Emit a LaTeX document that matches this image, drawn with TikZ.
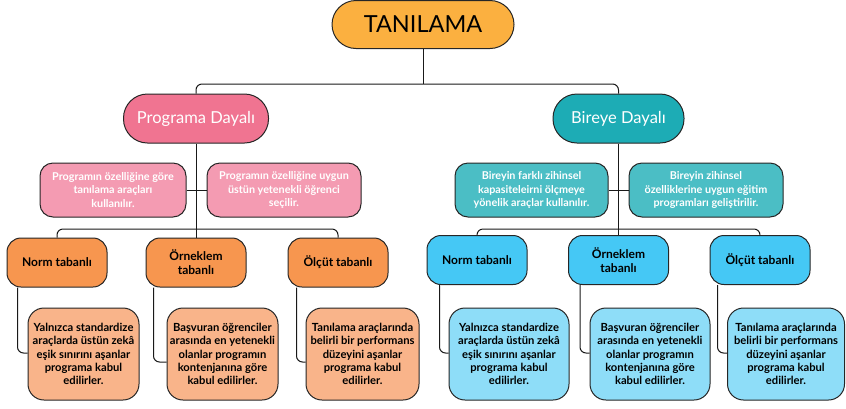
\documentclass[tikz,border=0pt]{standalone}
\usepackage{fontspec}
\setmainfont{Lato}
\usetikzlibrary{positioning}
\definecolor{cTan}{HTML}{FBB040}
\definecolor{cProg}{HTML}{F07491}
\definecolor{cPink}{HTML}{F49BB2}
\definecolor{cOrg}{HTML}{F7964F}
\definecolor{cOrgL}{HTML}{F9B48A}
\definecolor{cBir}{HTML}{1DACB5}
\definecolor{cTeal}{HTML}{4BBEC5}
\definecolor{cBlue}{HTML}{45C8F5}
\definecolor{cBlueL}{HTML}{8EDDF8}
\tikzset{
  boxbase/.style={draw=black!85, line width=1pt, inner sep=0pt, align=center},
  pill/.style={boxbase, minimum height=49pt, rounded corners=24pt},
  infobox/.style={boxbase, minimum height=54pt, rounded corners=13pt, text=white,
     font=\bfseries\fontsize{10.8}{13.4}\selectfont},
  midbox/.style={boxbase, minimum width=100pt, minimum height=49pt, rounded corners=14pt,
     font=\bfseries\fontsize{12}{14}\selectfont},
  lowbox/.style={boxbase, minimum height=92pt, rounded corners=16pt,
     font=\bfseries\fontsize{11.2}{13.4}\selectfont},
  conn/.style={draw=black!90, line width=1pt, rounded corners=6pt},
}
\begin{document}
\begin{tikzpicture}[x=1pt,y=-1pt]
\useasboundingbox (0,0) rectangle (846,408);
% top level
\node[pill, fill=cTan, minimum width=182pt, minimum height=48pt,
      font=\fontsize{23.5}{28}\selectfont] (tan) at (423,24.5) {TANILAMA};
\node[pill, fill=cProg, minimum width=145pt, text=white,
      font=\fontsize{16.5}{18}\selectfont] (prog) at (196,118.5) {Programa Dayalı};
\node[pill, fill=cBir, minimum width=131pt, text=white,
      font=\fontsize{16.5}{18}\selectfont] (bir) at (618.5,118.5) {Bireye Dayalı};
% second level
\node[infobox, fill=cPink, minimum width=146pt] (p1) at (113,190)
  {Programın özelliğine göre\\tanılama araçları\\kullanılır.};
\node[infobox, fill=cPink, minimum width=154pt] (p2) at (284,190)
  {Programın özelliğine uygun\\üstün yetenekli öğrenci\\seçilir.};
\node[infobox, fill=cTeal, minimum width=153pt] (t1) at (531.5,190)
  {Bireyin farklı zihinsel\\kapasiteleirni ölçmeye\\yönelik araçlar kullanılır.};
\node[infobox, fill=cTeal, minimum width=154pt] (t2) at (706,190)
  {Bireyin zihinsel\\özelliklerine uygun eğitim\\programları geliştirilir.};
% third level
\node[midbox, fill=cOrg] (o1) at (57,262.5) {Norm tabanlı};
\node[midbox, fill=cOrg] (o2) at (196,262.5) {Örneklem\\tabanlı};
\node[midbox, fill=cOrg] (o3) at (338,262.5) {Ölçüt tabanlı};
\node[midbox, fill=cBlue] (u1) at (477,260) {Norm tabanlı};
\node[midbox, fill=cBlue] (u2) at (618.5,260) {Örneklem\\tabanlı};
\node[midbox, fill=cBlue] (u3) at (760,260) {Ölçüt tabanlı};
% fourth level
\node[lowbox, fill=cOrgL, minimum width=111pt] (l1) at (83.5,354)
  {Yalnızca standardize\\araçlarda üstün zekâ\\eşik sınırını aşanlar\\programa kabul\\edilirler.};
\node[lowbox, fill=cOrgL, minimum width=111pt] (l2) at (222.5,354)
  {Başvuran öğrenciler\\arasında en yetenekli\\olanlar programın\\kontenjanına göre\\kabul edilirler.};
\node[lowbox, fill=cOrgL, minimum width=113pt] (l3) at (362.5,354)
  {Tanılama araçlarında\\belirli bir performans\\düzeyini aşanlar\\programa kabul\\edilirler.};
\node[lowbox, fill=cBlueL, minimum width=120pt] (r1) at (509,354)
  {Yalnızca standardize\\araçlarda üstün zekâ\\eşik sınırını aşanlar\\programa kabul\\edilirler.};
\node[lowbox, fill=cBlueL, minimum width=120pt] (r2) at (650,354)
  {Başvuran öğrenciler\\arasında en yetenekli\\olanlar programın\\kontenjanına göre\\kabul edilirler.};
\node[lowbox, fill=cBlueL, minimum width=117pt] (r3) at (786,354)
  {Tanılama araçlarında\\belirli bir performans\\düzeyini aşanlar\\programa kabul\\edilirler.};
% junction coordinates
\coordinate (h0) at (423,84);
\coordinate (hl) at (196,229);
\coordinate (hr) at (618.5,229);
% connectors
\draw[conn] (tan.south) -- (h0);
\draw[conn] (prog.north) |- (h0) -| (bir.north);
\draw[conn] (prog.south) -- (o2.north);
\draw[conn] (p1.east) -- (p2.west);
\draw[conn] (o1.north) |- (hl) -| (o3.north);
\draw[conn] (bir.south) -- (u2.north);
\draw[conn] (t1.east) -- (t2.west);
\draw[conn] (u1.north) |- (hr) -| (u3.north);
\draw[conn] ([xshift=11pt]o1.south west) |- ([yshift=1pt]l1.west);
\draw[conn] ([xshift=8pt]o2.south west) |- ([yshift=-8pt]l2.west);
\draw[conn] ([xshift=9pt]o3.south west) |- ([yshift=-8pt]l3.west);
\draw[conn] ([xshift=13pt]u1.south west) |- ([yshift=1pt]r1.west);
\draw[conn] ([xshift=12pt]u2.south west) |- ([yshift=1pt]r2.west);
\draw[conn] ([xshift=8pt]u3.south west) |- ([yshift=1pt]r3.west);
\end{tikzpicture}
\end{document}
